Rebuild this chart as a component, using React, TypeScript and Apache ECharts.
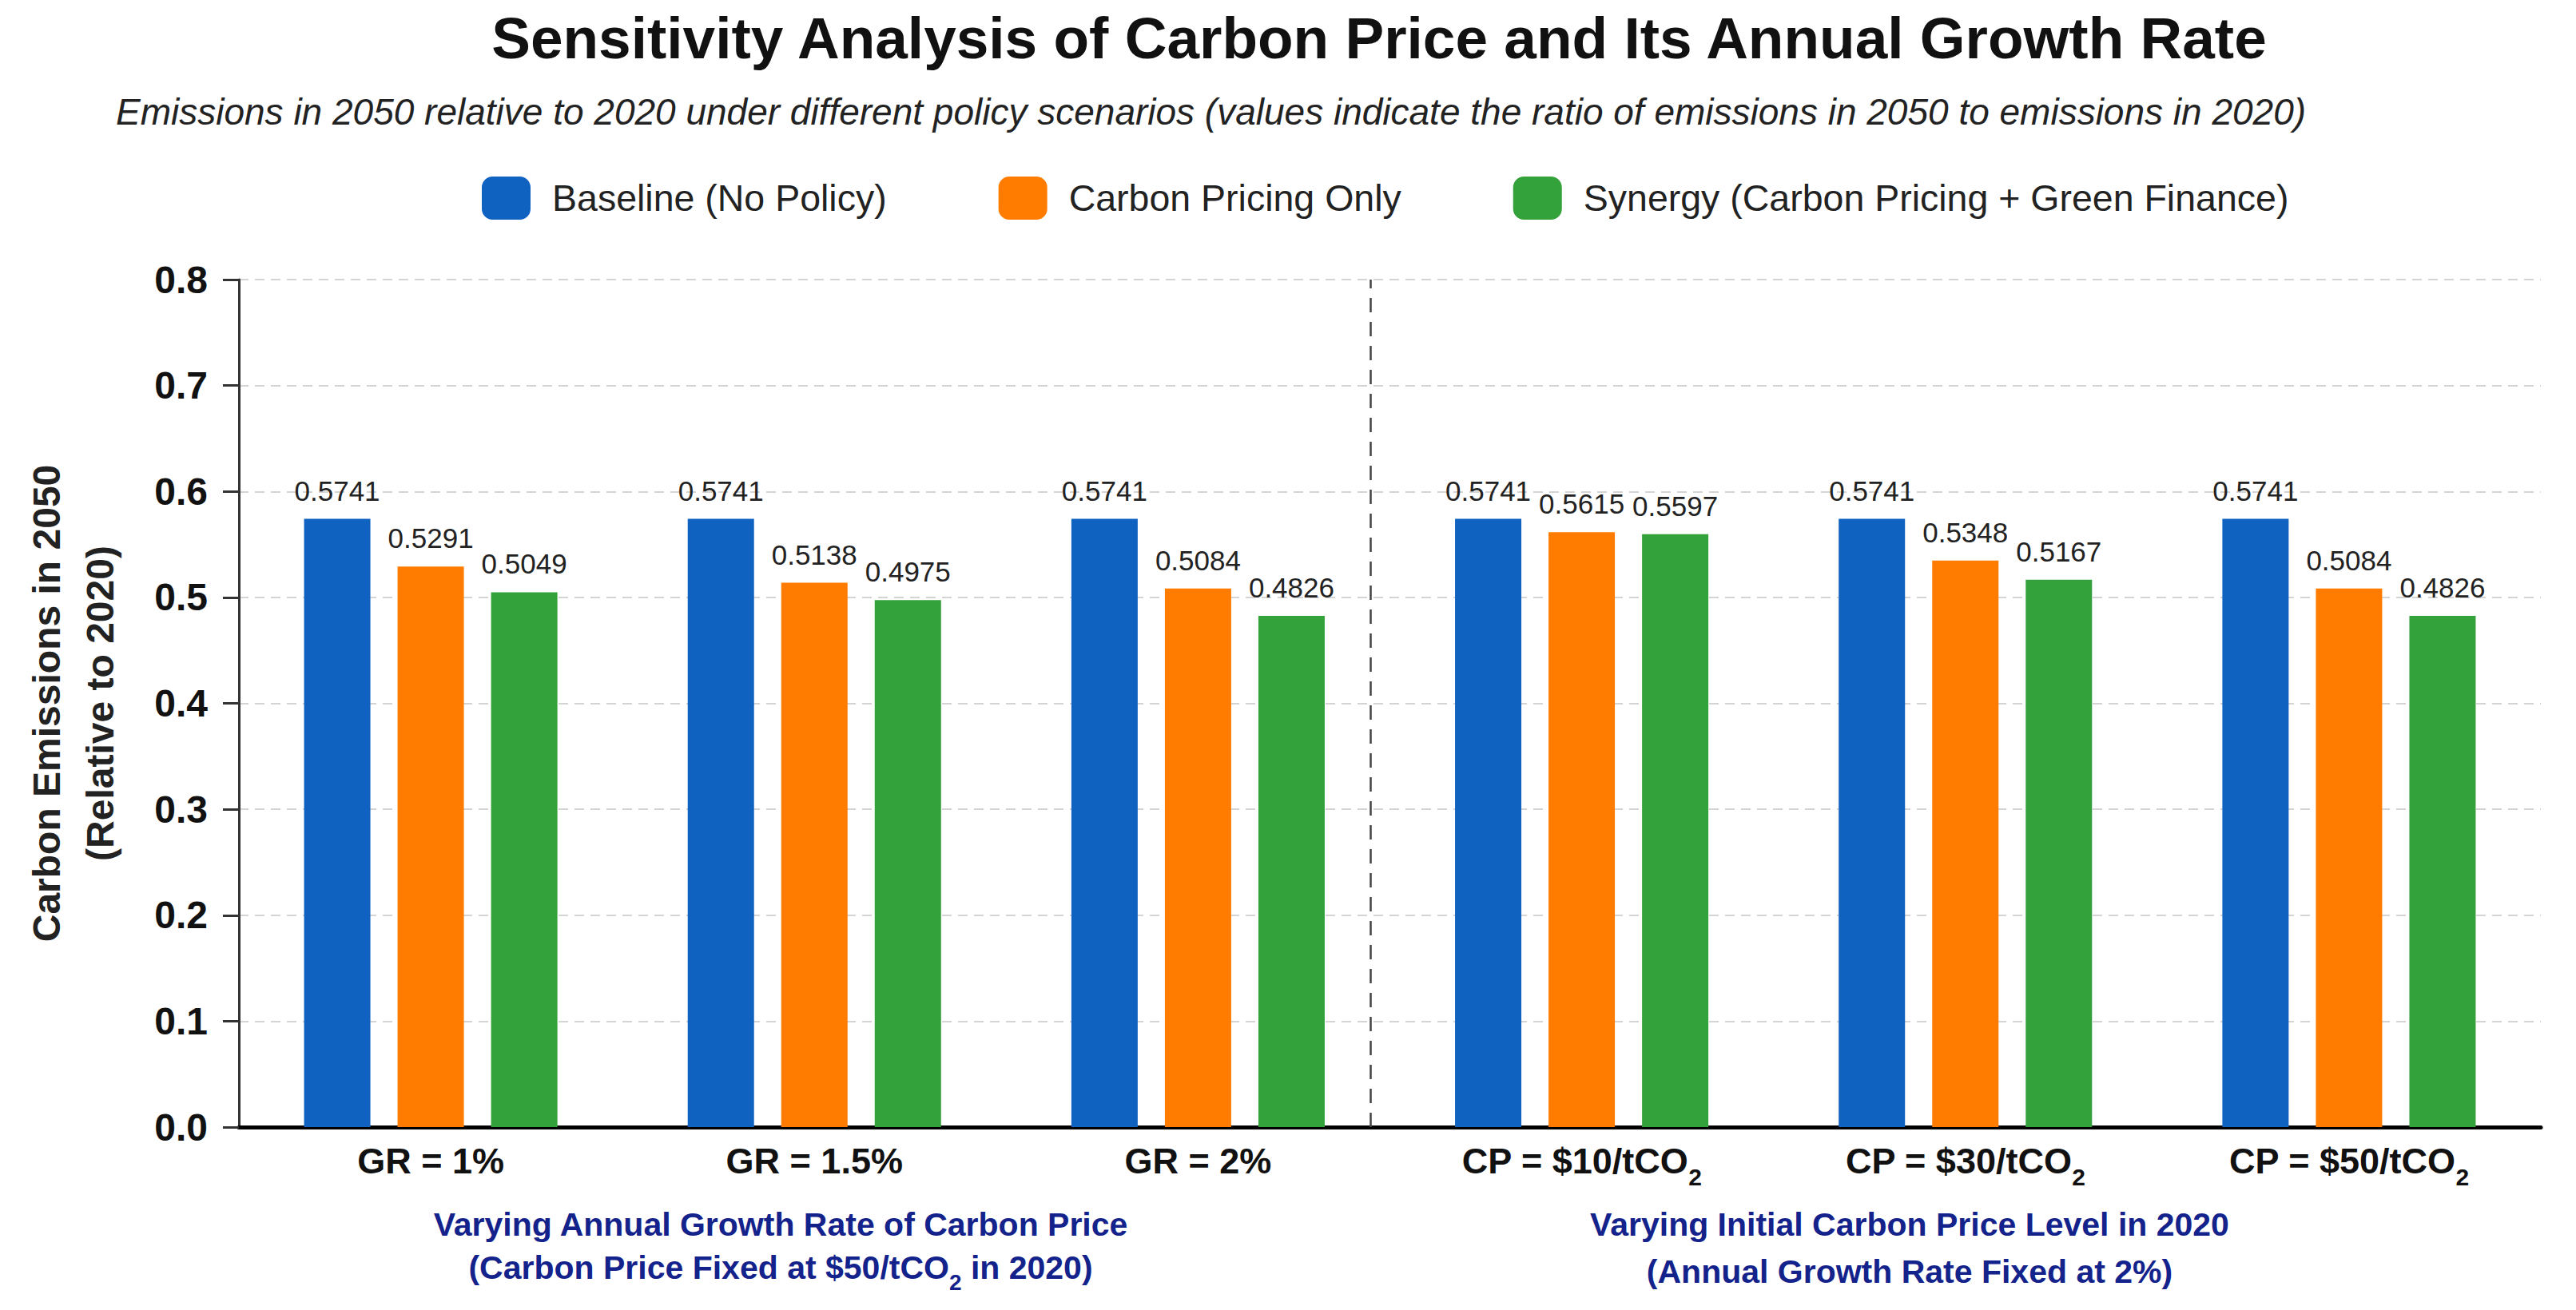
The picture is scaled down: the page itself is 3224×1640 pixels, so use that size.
import { useEffect, useRef } from 'react';
import * as echarts from 'echarts';

const categories = ['GR = 1%', 'GR = 1.5%', 'GR = 2%', 'CP = $10/tCO2', 'CP = $30/tCO2', 'CP = $50/tCO2'];
const seriesNames = ['Baseline (No Policy)', 'Carbon Pricing Only', 'Synergy (Carbon Pricing + Green Finance)'];
const baseline = [0.5741, 0.5741, 0.5741, 0.5741, 0.5741, 0.5741];
const pricingOnly = [0.5291, 0.5138, 0.5084, 0.5615, 0.5348, 0.5084];
const synergy = [0.5049, 0.4975, 0.4826, 0.5597, 0.5167, 0.4826];
const colors = ['#1062C0', '#FF7C00', '#33A23A'];
// where the dashed separator sits, in category units along the x axis
const dividerPos = 2.95;

const FONT = '"Liberation Sans", Arial, sans-serif';
const NAVY = '#14238c';

export default function App() {
  const chartRef = useRef<HTMLDivElement>(null);

  useEffect(() => {
    if (!chartRef.current) return;
    const chart = echarts.init(chartRef.current, null, { renderer: 'svg' });

    const barSeries: any[] = [baseline, pricingOnly, synergy].map((data, i) => ({
      name: seriesNames[i],
      type: 'bar',
      data,
      barWidth: 83,
      barGap: '41%',
      itemStyle: { color: colors[i] },
      label: {
        show: true,
        position: 'top',
        distance: 18,
        fontFamily: FONT,
        fontSize: 35,
        color: '#222',
        formatter: (p: any) => Number(p.value).toFixed(4)
      }
    }));

    // invisible helper series on a hidden value axis, only carries the separator line
    barSeries.push({
      name: 'divider',
      type: 'line',
      xAxisIndex: 1,
      data: [[dividerPos, 0]],
      showSymbol: false,
      symbol: 'none',
      lineStyle: { opacity: 0 },
      silent: true,
      markLine: {
        silent: true,
        symbol: 'none',
        label: { show: false },
        lineStyle: { color: '#444', width: 2.5, type: [18, 12] },
        data: [{ xAxis: dividerPos }]
      }
    });

    const subRich = (size: number, lh: number, color: string) => ({
      s: { fontFamily: FONT, fontSize: size, fontWeight: 'bold', lineHeight: lh, verticalAlign: 'bottom', fill: color, color }
    });

    chart.setOption({
      animation: false,
      backgroundColor: '#ffffff',
      title: [
        {
          text: 'Sensitivity Analysis of Carbon Price and Its Annual Growth Rate',
          left: 1721,
          top: 6,
          textAlign: 'center',
          textStyle: { fontFamily: FONT, fontSize: 73, fontWeight: 'bold', color: '#111' }
        },
        {
          text: 'Emissions in 2050 relative to 2020 under different policy scenarios (values indicate the ratio of emissions in 2050 to emissions in 2020)',
          left: 140,
          top: 112,
          textStyle: { fontFamily: FONT, fontSize: 46, fontStyle: 'italic', fontWeight: 'normal', color: '#222' }
        }
      ],
      legend: {
        data: seriesNames,
        left: 598,
        top: 216,
        itemWidth: 61,
        itemHeight: 54,
        itemGap: 140,
        icon: 'roundRect',
        textStyle: { fontFamily: FONT, fontSize: 46.5, color: '#222', padding: [0, 0, 0, 22] }
      },
      grid: { left: 299, right: 44, top: 350, bottom: 229 },
      xAxis: [
        {
          type: 'category',
          data: categories,
          axisLine: { lineStyle: { color: '#000', width: 5 } },
          axisTick: { show: false },
          axisLabel: {
            interval: 0,
            margin: 7,
            fontFamily: FONT,
            fontSize: 45,
            fontWeight: 'bold',
            color: '#111',
            lineHeight: 70,
            formatter: (v: string) => v.replace(/CO2$/, 'CO{s|2}'),
            rich: subRich(30, 30, '#111')
          },
          splitLine: { show: false }
        },
        {
          type: 'value',
          min: 0,
          max: categories.length,
          show: false,
          splitLine: { show: false }
        }
      ],
      yAxis: {
        type: 'value',
        min: 0,
        max: 0.8,
        interval: 0.1,
        name: 'Carbon Emissions in 2050\n(Relative to 2020)',
        nameLocation: 'middle',
        nameGap: 140,
        nameTextStyle: { fontFamily: FONT, fontSize: 48, fontWeight: 'bold', color: '#222', lineHeight: 67 },
        axisLine: { show: true, lineStyle: { color: '#333', width: 3 } },
        axisTick: { show: true, length: 20, lineStyle: { color: '#333', width: 3 } },
        axisLabel: {
          margin: 39,
          fontFamily: FONT,
          fontSize: 48,
          fontWeight: 'bold',
          color: '#111',
          formatter: (v: number) => v.toFixed(1)
        },
        splitLine: { lineStyle: { color: '#d4d4d4', width: 2, type: [12, 8] } }
      },
      graphic: [
        {
          type: 'text',
          x: 977,
          y: 1533,
          style: {
            text: 'Varying Annual Growth Rate of Carbon Price',
            fontFamily: FONT, fontSize: 41, fontWeight: 'bold', fill: NAVY,
            textAlign: 'center', textVerticalAlign: 'middle'
          }
        },
        {
          type: 'text',
          x: 977,
          y: 1587,
          style: {
            text: '(Carbon Price Fixed at $50/tCO{s|2} in 2020)',
            rich: subRich(28, 34, NAVY),
            lineHeight: 64,
            fontFamily: FONT, fontSize: 41, fontWeight: 'bold', fill: NAVY,
            textAlign: 'center', textVerticalAlign: 'middle'
          }
        },
        {
          type: 'text',
          x: 2390,
          y: 1533,
          style: {
            text: 'Varying Initial Carbon Price Level in 2020',
            fontFamily: FONT, fontSize: 41, fontWeight: 'bold', fill: NAVY,
            textAlign: 'center', textVerticalAlign: 'middle'
          }
        },
        {
          type: 'text',
          x: 2390,
          y: 1592,
          style: {
            text: '(Annual Growth Rate Fixed at 2%)',
            fontFamily: FONT, fontSize: 41, fontWeight: 'bold', fill: NAVY,
            textAlign: 'center', textVerticalAlign: 'middle'
          }
        }
      ],
      series: barSeries
    });

    const handleResize = () => chart.resize();
    window.addEventListener('resize', handleResize);
    return () => {
      window.removeEventListener('resize', handleResize);
      chart.dispose();
    };
  }, []);

  return (
    <div
      ref={chartRef}
      style={{ position: 'fixed', left: 0, top: 0, width: '100vw', height: '100vh', background: '#fff' }}
    />
  );
}
